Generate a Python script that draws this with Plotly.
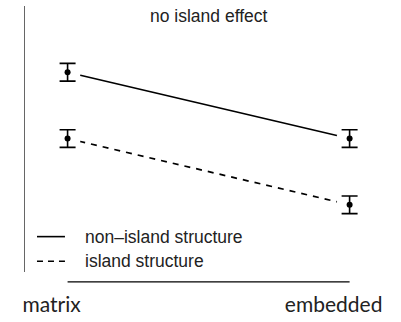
import plotly.graph_objects as go

# Condition levels and cell means with standard errors
conditions = ["matrix", "embedded"]
non_island = [0.90, 0.60]
island = [0.60, 0.30]
se_non_island = [0.04, 0.04]
se_island = [0.04, 0.04]
series_names = ["non\u2013island structure", "island structure"]

xpos = list(range(1, len(conditions) + 1))

fig = go.Figure()

styles = [("solid", non_island, se_non_island), ("6px,6px", island, se_island)]
legend_dash = ["solid", "6px,5px"]

for dash, vals, se in styles:
    # connecting line
    fig.add_trace(go.Scatter(
        x=xpos, y=vals, mode="lines",
        line=dict(color="black", width=1.7, dash=dash),
        hoverinfo="skip", showlegend=False))
    # white disc leaves a gap between line and point (type="b" look)
    fig.add_trace(go.Scatter(
        x=xpos, y=vals, mode="markers",
        marker=dict(color="white", size=26, line=dict(width=0)),
        hoverinfo="skip", showlegend=False))

for dash, vals, se in styles:
    fig.add_trace(go.Scatter(
        x=xpos, y=vals, mode="markers",
        marker=dict(color="black", size=6),
        error_y=dict(type="data", array=se, visible=True,
                     color="black", thickness=1.6, width=8),
        showlegend=False))

# bottom axis segment spanning the two conditions
fig.add_shape(type="line", xref="x", yref="paper",
              x0=xpos[0], x1=xpos[-1], y0=-0.037, y1=-0.037,
              line=dict(color="black", width=1.3))

# legend drawn by hand
leg_y = [0.133, 0.0406]
for ld, name, ly in zip(legend_dash, series_names, leg_y):
    fig.add_shape(type="line", xref="paper", yref="paper",
                  x0=0.0324, x1=0.108, y0=ly, y1=ly,
                  line=dict(color="black", width=1.6, dash=ld))
    fig.add_annotation(xref="paper", yref="paper", x=0.157, y=ly,
                       text=name, showarrow=False, xanchor="left",
                       yanchor="middle",
                       font=dict(family="Liberation Sans", size=17.5,
                                 color="#222"))

fig.add_annotation(xref="paper", yref="paper", x=0.496, y=0.963,
                   text="no island effect", showarrow=False,
                   xanchor="center", yanchor="middle",
                   font=dict(family="Liberation Sans", size=17.5,
                             color="#222"))

fig.update_layout(
    width=401, height=322,
    margin=dict(l=25, r=6, t=6, b=45),
    paper_bgcolor="white", plot_bgcolor="white",
    xaxis=dict(range=[0.849, 2.161], tickvals=xpos, ticktext=conditions,
               showgrid=False, zeroline=False, showline=False,
               ticks="", ticklabelshift=-16, ticklabelstandoff=18,
               tickfont=dict(family="Lato", size=21, color="#222")),
    yaxis=dict(range=[-0.0044, 1.2], showgrid=False, zeroline=False,
               showline=True, linecolor="#666", linewidth=1,
               showticklabels=False, ticks=""),
)

fig.write_html("out.html")
